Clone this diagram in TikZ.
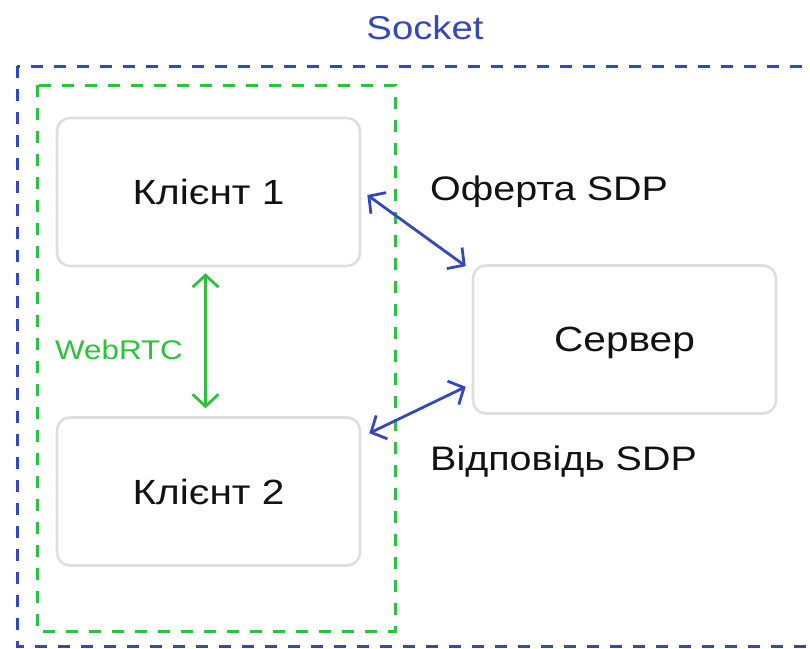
\documentclass[tikz,border=0pt]{standalone}
\usepackage{fontspec}
\setmainfont[FakeStretch=1.16]{Liberation Sans}
\usetikzlibrary{arrows.meta,calc}
\definecolor{sockblue}{HTML}{3447BE}
\definecolor{rtcgreen}{HTML}{2CC23C}
\definecolor{boxgray}{HTML}{DEDEDE}
\definecolor{ink}{HTML}{121212}
\tikzset{
  peer/.style={draw=boxgray, line width=2.6pt, rounded corners=13pt, fill=white,
    minimum width=303pt, minimum height=148pt, inner sep=0pt, text depth=0pt,
    font=\fontsize{35}{40}\selectfont, text=ink},
  frame/.style={line width=3pt, dash pattern=on 12pt off 11pt},
  link/.style={line width=2.8pt, {Straight Barb[length=12pt,width=26pt,line width=2.8pt]}-{Straight Barb[length=12pt,width=26pt,line width=2.8pt]}},
  lbl/.style={anchor=west, inner sep=0pt, font=\fontsize{34}{38}\selectfont, text=ink}
}
\begin{document}
\begin{tikzpicture}[x=1pt,y=-1pt]
  \useasboundingbox[fill=white] (0,0) rectangle (810,648);
  % socket and WebRTC frames
  \draw[frame, sockblue] (17,66) rectangle (830,646);
  \draw[frame, rtcgreen] (37,85) rectangle (395,631);
  \node[text=sockblue, font=\fontsize{33}{36}\selectfont, inner sep=0pt] (sock) at (425,28) {Socket};

  % peers and server
  \node[peer] (k1) at (208.5,192) {Клієнт 1};
  \node[peer] (k2) at (208.5,491.5) {Клієнт 2};
  \node[peer] (srv) at (624.5,339.5) {Сервер};

  % signalling links
  \draw[link, sockblue] ($(k1.east)+(6,3)$) -- ($(srv.north west)+(-6,2)$);
  \draw[link, sockblue] ($(srv.south west)+(-6,-28)$) -- ($(k2.north east)+(8,17)$);
  \node[lbl] (offer) at (430,192) {Оферта SDP};
  \node[lbl] (answer) at (430,462) {Відповідь SDP};

  % peer-to-peer link
  \draw[link, rtcgreen] ($(k1.south)+(-3,6)$) -- ($(k2.north)+(-3,-8)$);
  \node[lbl, text=rtcgreen, font=\fontsize{27}{30}\selectfont] (rtc) at (55,350) {WebRTC};
\end{tikzpicture}
\end{document}
